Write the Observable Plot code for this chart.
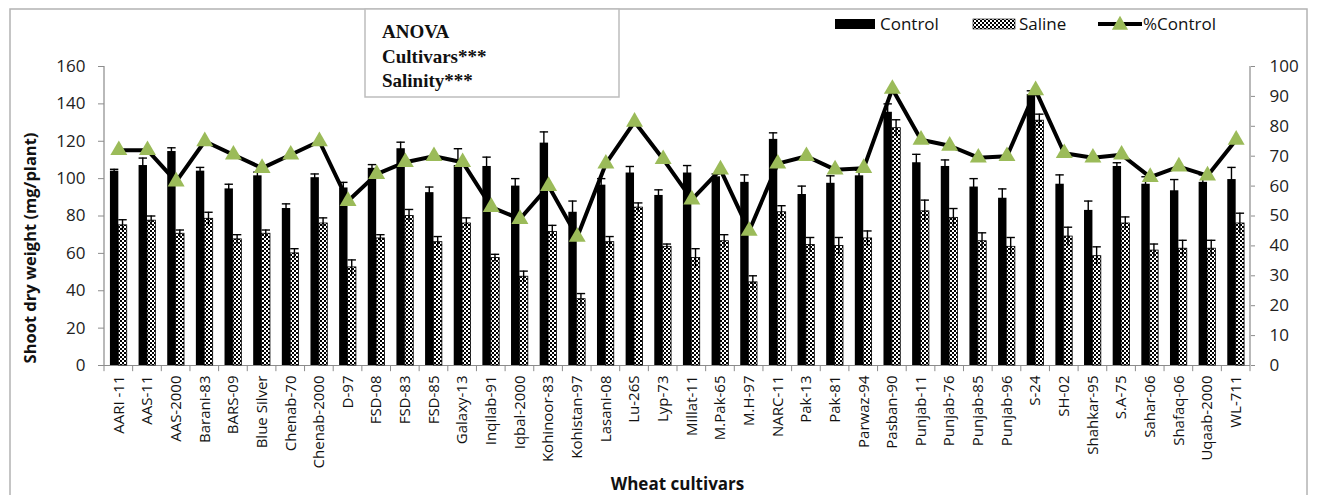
<!DOCTYPE html>
<html><head><meta charset="utf-8">
<script src="https://cdn.jsdelivr.net/npm/d3@7"></script>
<script src="https://cdn.jsdelivr.net/npm/@observablehq/plot@0.6"></script>
<style>
body{margin:0;background:#fff;}
#wrap{width:1317px;height:495px;overflow:hidden;}
</style>
</head><body><div id="wrap"></div>
<script>
const cats = ["AARI -11","AAS-11","AAS-2000","Barani-83","BARS-09","Blue Silver","Chenab-70","Chenab-2000","D-97","FSD-08","FSD-83","FSD-85","Galaxy-13","Inqilab-91","Iqbal-2000","Kohinoor-83","Kohistan-97","Lasani-08","Lu-26S","Lyp-73","Millat-11","M.Pak-65","M.H-97","NARC-11","Pak-13","Pak-81","Parwaz-94","Pasban-90","Punjab-11","Punjab-76","Punjab-85","Punjab-96","S-24","SH-02","Shahkar-95","S.A-75","Sahar-06","Shafaq-06","Uqaab-2000","WL-711"];
const control    = [104,107,114.5,104,94.5,101.5,84,100.5,95,105.5,116,92.5,107,106.5,96,119,82,96.5,103,91,103,101,98,121,91.5,97.5,101.5,135.5,108.5,106.5,95.5,89.5,145,97,83,106.5,97,93.5,98,99.5];
const controlErr = [1,4,2,2,2.5,2,2.5,2,3,2,3.5,3,9,5,4,6,6,3.5,3.5,3,4,1.5,4,3.5,4.5,4,3,4.5,4.5,3.5,4.5,5,2,5,5,2,4,6,4,6.5];
const saline     = [75,77.5,70.5,78.5,67.5,70.5,60,76,52.5,68,80,66,76,57.5,47.5,71.5,35.5,66,84.5,63.5,57.5,66.5,44.5,82,64.5,64,68,127,82.5,79,66.5,63.5,131,69,58.5,76,61.5,62.5,62.5,76];
const salineErr  = [3,2.5,2,3.5,2.5,2,2.5,3,4,2,3.5,3,3,2,3,3.5,3,3,2.5,1.5,5,3.5,3.5,3.5,4,4.5,4,4.5,6,5,4.5,5,3.5,5,5,3.5,3.5,4.5,4.5,5.5];
const pctControl = [72,72,61.5,75,70.5,66,70.5,75,55,64,68,70,68,53,49,60,43,67.5,81.5,69,55.5,65.5,45,67.5,70,65.5,66,92.5,75.5,73.5,69.5,70,92,71,69.5,70.5,63,66.5,63.5,75.5];
const leftTicks = [0,20,40,60,80,100,120,140,160];
const rightTicks = [0,10,20,30,40,50,60,70,80,90,100];

const k = 1.6; // right axis (0-100) shares the left axis range (0-160)
const data = cats.map((c,i)=>({cat:c, control:control[i], cErr:controlErr[i], saline:saline[i], sErr:salineErr[i], pct:pctControl[i]*k}));

const W=1317,H=495,mL=104,mR=67,mT=66,mB=130;
const bw=(W-mL-mR)/cats.length, half=bw/2, barW=8.4;
const cc = half-barW/2, sc = half+barW/2; // bar centres within a band
const ew = 0.7; // half width of error-bar stem
const axisGray="#8c8c8c";
const lastCat = cats[cats.length-1];

const svg = Plot.plot({
  width:W, height:H, marginLeft:mL, marginRight:mR, marginTop:mT, marginBottom:mB,
  style:{fontFamily:"'Open Sans', sans-serif", fontSize:"14px", color:"#222", background:"white", overflow:"visible"},
  x:{type:"band", domain:cats, padding:0, round:false},
  y:{domain:[0,160]},
  marks:[
    Plot.ruleY([0],{stroke:axisGray, strokeWidth:1.2}),
    // axis lines on band edges
    Plot.barY([cats[0]],{x:d=>d, y1:0, y2:160, fill:axisGray, insetLeft:-0.6, insetRight:bw-0.6}),
    Plot.barY([lastCat],{x:d=>d, y1:0, y2:160, fill:axisGray, insetLeft:bw-0.6, insetRight:-0.6}),
    // category boundary ticks
    Plot.barY(cats,{x:d=>d, y1:0, y2:-3.3, fill:axisGray, insetLeft:-0.5, insetRight:bw-0.5}),
    Plot.barY([lastCat],{x:d=>d, y1:0, y2:-3.3, fill:axisGray, insetLeft:bw-0.5, insetRight:-0.5}),
    Plot.axisY({anchor:"left", ticks:leftTicks, tickSize:6, tickPadding:13, stroke:axisGray, fill:"#222", fontSize:17, label:null}),
    Plot.axisY({anchor:"right", ticks:rightTicks.map(t=>t*k), tickFormat:d=>Math.round(d/k), tickSize:4, tickPadding:15, stroke:axisGray, fill:"#222", fontSize:17, label:null}),
    Plot.axisX({tickRotate:-90, tickSize:0, tickPadding:10, fill:"#111", fontSize:15, label:null}),
    Plot.barY(data,{x:"cat", y:"control", fill:"black", insetLeft:half-barW, insetRight:half}),
    Plot.barY(data,{x:"cat", y:"saline", fill:"url(#checker)", stroke:"black", strokeWidth:0.8, insetLeft:half, insetRight:half-barW}),
    // error bars
    Plot.barY(data,{x:"cat", y1:d=>d.control-d.cErr, y2:d=>d.control+d.cErr, fill:"black", insetLeft:cc-ew, insetRight:bw-cc-ew}),
    Plot.tickY(data,{x:"cat", y:d=>d.control+d.cErr, insetLeft:half-barW, insetRight:half, stroke:"black", strokeWidth:1.4}),
    Plot.barY(data,{x:"cat", y1:d=>d.saline-d.sErr, y2:d=>d.saline+d.sErr, fill:"black", insetLeft:sc-ew, insetRight:bw-sc-ew}),
    Plot.tickY(data,{x:"cat", y:d=>d.saline+d.sErr, insetLeft:half, insetRight:half-barW, stroke:"black", strokeWidth:1.4}),
    Plot.line(data,{x:"cat", y:"pct", stroke:"black", strokeWidth:4, strokeLinejoin:"miter"}),
    Plot.dot(data,{x:"cat", y:"pct", symbol:"triangle", r:6.3, fill:"#9BBB59", stroke:"none"}),
    Plot.text(["Shoot dry weight (mg/plant)"],{frameAnchor:"left", textAnchor:"middle", lineAnchor:"middle", rotate:-90, dx:-74, dy:32, fontWeight:"bold", fontSize:16.5, fill:"#111"}),
    Plot.text(["Wheat cultivars"],{frameAnchor:"bottom", textAnchor:"middle", dy:124, fontWeight:"bold", fontSize:17, fill:"#111"})
  ]
});

const s = d3.select(svg);
const defs = s.insert("defs",":first-child");
const pat = defs.append("pattern").attr("id","checker").attr("width",4).attr("height",4).attr("patternUnits","userSpaceOnUse");
pat.append("rect").attr("width",4).attr("height",4).attr("fill","white");
pat.append("rect").attr("width",2).attr("height",2).attr("fill","black");
pat.append("rect").attr("x",2).attr("y",2).attr("width",2).attr("height",2).attr("fill","black");

// outer frame
s.append("rect").attr("x",10).attr("y",9).attr("width",1297).attr("height",520).attr("fill","none").attr("stroke","#b3b3b3").attr("stroke-width",1.5);

// ANOVA box
const ab = s.append("g").attr("text-anchor","start");
ab.append("rect").attr("x",365).attr("y",9).attr("width",254).attr("height",88).attr("fill","white").attr("stroke","#bdbdbd").attr("stroke-width",1.5);
["ANOVA","Cultivars***","Salinity***"].forEach((t,i)=>{
  ab.append("text").attr("x",382).attr("y",38+i*24.5).attr("text-anchor","start").attr("font-family","'Liberation Serif', serif").attr("font-weight","bold").attr("font-size",19).attr("fill","#111").text(t);
});

// legend
const lg = s.append("g").attr("text-anchor","start").attr("font-family","'Open Sans', sans-serif").attr("font-size",17).attr("fill","#111");
lg.append("rect").attr("x",835).attr("y",19).attr("width",40).attr("height",10).attr("fill","black");
lg.append("text").attr("x",880).attr("y",29.5).attr("text-anchor","start").text("Control");
lg.append("rect").attr("x",973).attr("y",19).attr("width",42).attr("height",10).attr("fill","url(#checker)").attr("stroke","black").attr("stroke-width",0.6);
lg.append("text").attr("x",1019).attr("y",29.5).attr("text-anchor","start").text("Saline");
lg.append("line").attr("x1",1098).attr("x2",1142).attr("y1",24).attr("y2",24).attr("stroke","black").attr("stroke-width",4);
lg.append("path").attr("transform","translate(1120,25)").attr("d",d3.symbol(d3.symbolTriangle, Math.PI*6*6)()).attr("fill","#9BBB59");
lg.append("text").attr("x",1143).attr("y",29.5).attr("text-anchor","start").text("%Control");

document.getElementById("wrap").appendChild(svg);
</script>
</body></html>
